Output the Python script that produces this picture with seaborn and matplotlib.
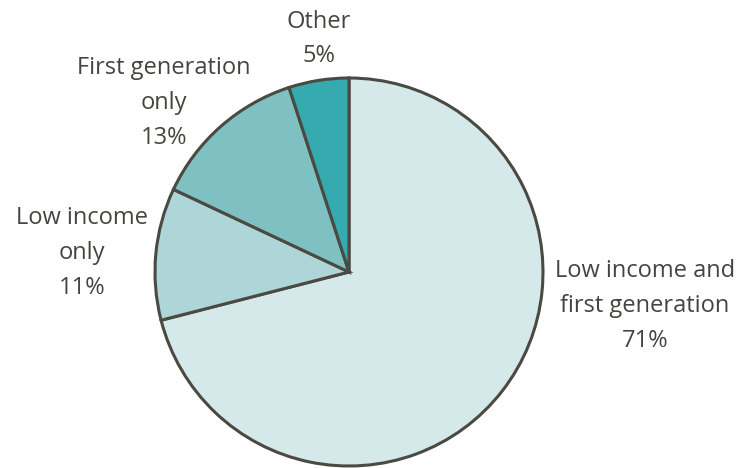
import matplotlib
matplotlib.use("Agg")
import matplotlib.pyplot as plt
import seaborn as sns

categories = ["Low income and\nfirst generation", "Low income\nonly", "First generation\nonly", "Other"]
values = [71, 11, 13, 5]
colors = ["#d6e9ea", "#aed6d8", "#7fc0c2", "#35abb0"]

sns.set_theme(style="white")
plt.rcParams['font.family'] = ['Open Sans', 'DejaVu Sans']

fig = plt.figure(figsize=(7.4, 4.68), dpi=100)
ax = fig.add_axes([0, 0, 1, 1])

cx, cy, r = 349, 272, 194
ax.pie(values, colors=colors, startangle=90, counterclock=False,
       center=(cx, -cy), radius=r,
       wedgeprops=dict(edgecolor="#4a4a42", linewidth=2.2), frame=True)
ax.set_xlim(0, 740)
ax.set_ylim(-468, 0)
ax.set_aspect("equal")
ax.axis("off")

label_pos = [(645, 306), (82, 253), (164, 103), (319, 39)]
for cat, v, (x, y) in zip(categories, values, label_pos):
    ax.text(x, -y, f"{cat}\n{v}%", ha="center", va="center", fontsize=17,
            color="#45453f", linespacing=1.6)

fig.savefig("out.png", dpi=100)
